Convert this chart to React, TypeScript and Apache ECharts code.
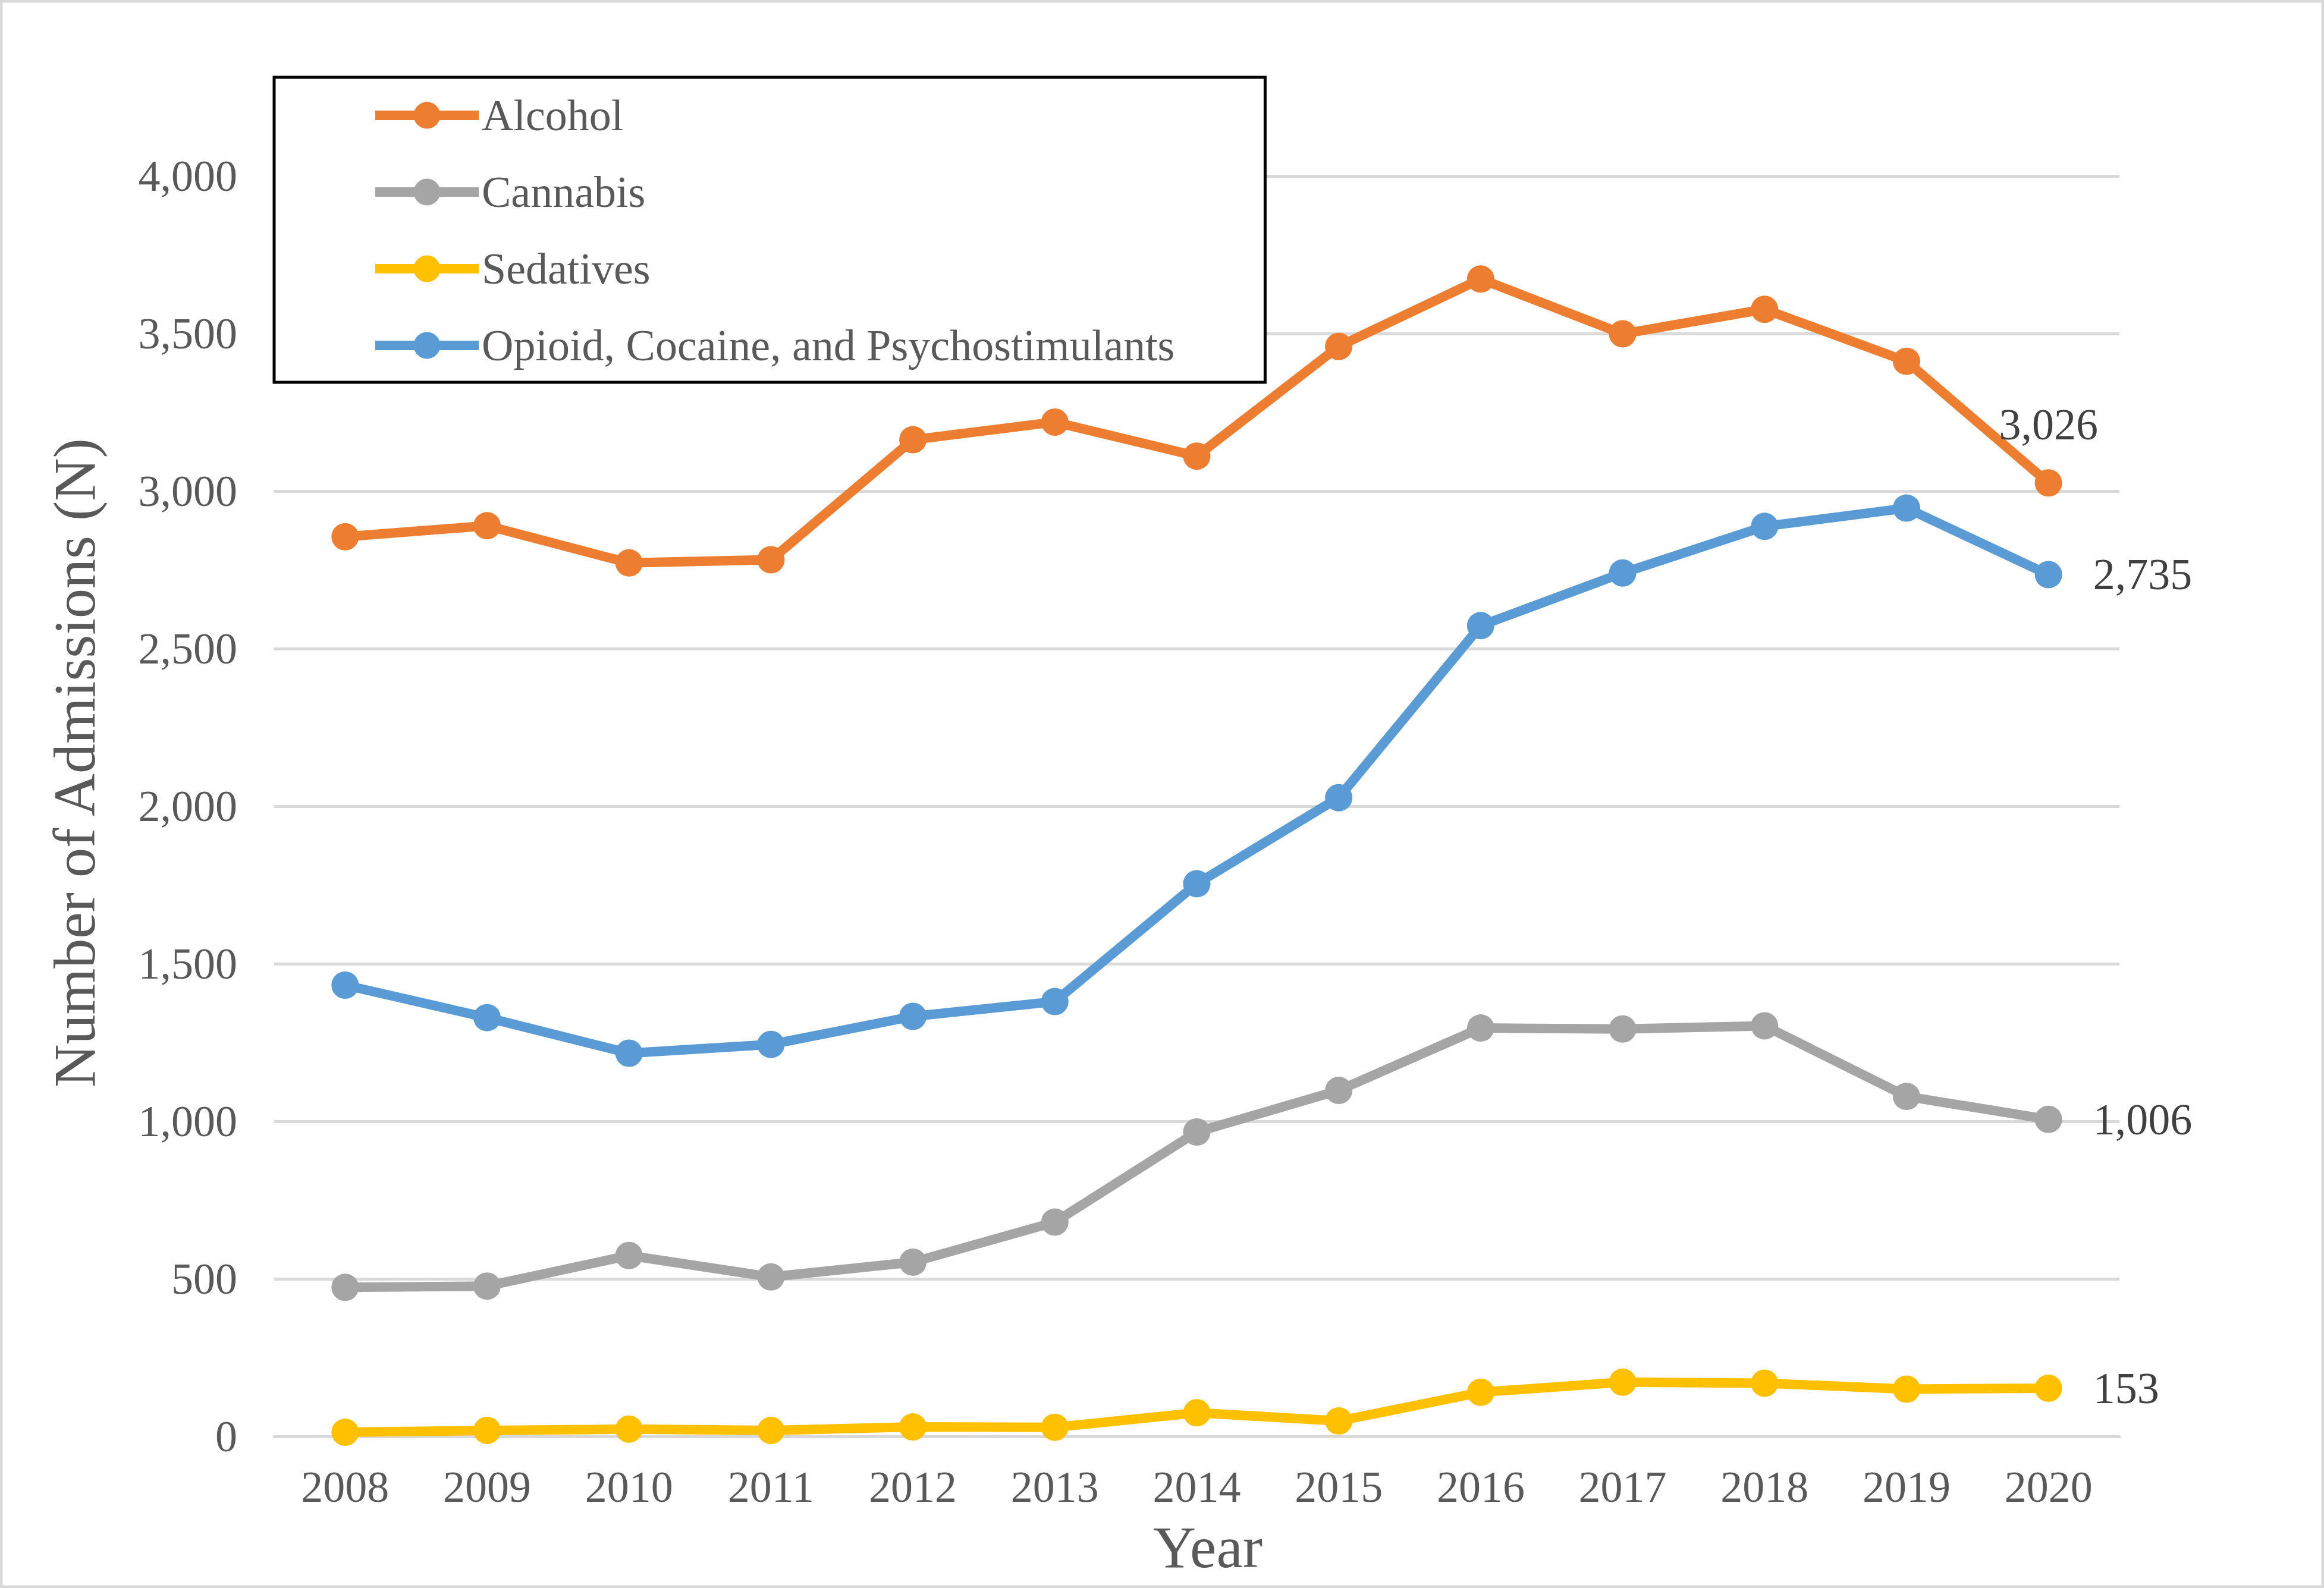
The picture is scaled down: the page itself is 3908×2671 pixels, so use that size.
import React, { useEffect, useRef } from "react";
import * as echarts from "echarts";

const years = ["2008", "2009", "2010", "2011", "2012", "2013", "2014", "2015", "2016", "2017", "2018", "2019", "2020"];
const alcohol = [2855, 2890, 2772, 2782, 3163, 3219, 3111, 3459, 3673, 3499, 3577, 3412, 3026];
const cannabis = [473, 477, 574, 506, 553, 680, 966, 1098, 1296, 1293, 1303, 1079, 1006];
const sedatives = [13, 19, 23, 19, 30, 29, 75, 49, 140, 172, 169, 150, 153];
const opioid = [1432, 1329, 1216, 1244, 1333, 1380, 1754, 2027, 2573, 2740, 2888, 2946, 2735];

const seriesNames = ["Alcohol", "Cannabis", "Sedatives", "Opioid, Cocaine, and Psychostimulants"];
const colors = ["#ED7D31", "#A5A5A5", "#FFC000", "#5B9BD5"];
const labelPositions = ["top", "right", "right", "right"];
const xTitle = "Year";
const yTitle = "Number of Admissions (N)";

const FONT = "'Liberation Serif', 'Times New Roman', serif";

export default function App() {
  const ref = useRef<HTMLDivElement>(null);
  useEffect(() => {
    document.body.style.margin = "0";
    if (!ref.current) return;
    const chart = echarts.init(ref.current, undefined, { renderer: "svg" });
    const datasets = [alcohol, cannabis, sedatives, opioid];
    const lastIdx = years.length - 1;
    const series = datasets.map((d, i) => ({
      name: seriesNames[i],
      type: "line",
      data: d.map((v, j) =>
        j === lastIdx
          ? {
              value: v,
              label: {
                show: true,
                position: labelPositions[i],
                distance: labelPositions[i] === "top" ? 38 : 52,
                formatter: (p: any) => Number(p.value).toLocaleString("en-US"),
                fontFamily: FONT,
                fontSize: 74,
                color: "#404040",
              },
            }
          : v
      ),
      symbol: "circle",
      symbolSize: 46,
      lineStyle: { width: 16, color: colors[i] },
      itemStyle: { color: colors[i] },
      emphasis: { disabled: true },
    }));
    chart.setOption({
      animation: false,
      backgroundColor: "#ffffff",
      grid: { left: 461, right: 344, top: 296, bottom: 255, containLabel: false },
      legend: {
        show: true,
        orient: "vertical",
        left: 461,
        top: 130,
        backgroundColor: "#ffffff",
        borderColor: "#000000",
        borderWidth: 5,
        borderRadius: 0,
        padding: [27, 152, 25, 162],
        itemWidth: 174,
        itemHeight: 56,
        itemGap: 55,
        lineStyle: { width: 16 },
        textStyle: { fontFamily: FONT, fontSize: 74, color: "#595959", lineHeight: 74 },
        data: seriesNames,
        selectedMode: false,
      },
      xAxis: {
        type: "category",
        data: years,
        boundaryGap: true,
        axisLine: { show: true, lineStyle: { color: "#D9D9D9", width: 5 } },
        axisTick: { show: false },
        axisLabel: { fontFamily: FONT, fontSize: 74, color: "#595959", margin: 48 },
      },
      yAxis: {
        type: "value",
        min: 0,
        max: 4000,
        interval: 500,
        axisLine: { show: false },
        axisTick: { show: false },
        axisLabel: {
          fontFamily: FONT,
          fontSize: 74,
          color: "#595959",
          margin: 62,
          formatter: (v: number) => v.toLocaleString("en-US"),
        },
        splitLine: { show: true, lineStyle: { color: "#D9D9D9", width: 5 } },
      },
      graphic: [
        {
          type: "rect",
          shape: { x: 2, y: 2, width: 3904, height: 2667 },
          style: { fill: "none", stroke: "#D9D9D9", lineWidth: 5 },
          silent: true,
          z: 100,
        },
        {
          type: "text",
          x: 2031,
          y: 2602,
          silent: true,
          style: {
            text: xTitle,
            font: `100px ${FONT}`,
            fill: "#595959",
            textAlign: "center",
            textVerticalAlign: "middle",
            align: "center",
            verticalAlign: "middle",
          },
        },
        {
          type: "text",
          x: 125,
          y: 1283,
          rotation: Math.PI / 2,
          silent: true,
          style: {
            text: yTitle,
            font: `100px ${FONT}`,
            fill: "#595959",
            textAlign: "center",
            textVerticalAlign: "middle",
            align: "center",
            verticalAlign: "middle",
          },
        },
      ],
      series,
    });
    return () => chart.dispose();
  }, []);
  return <div ref={ref} style={{ width: 3908, height: 2671 }} />;
}
